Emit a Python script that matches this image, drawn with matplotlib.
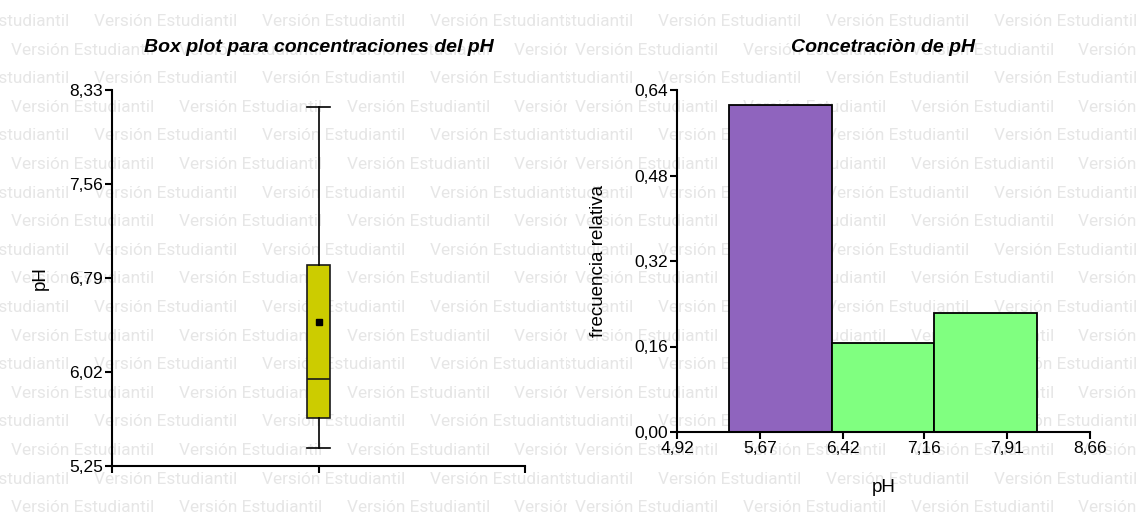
import numpy as np
import matplotlib
matplotlib.use("Agg")
import matplotlib.pyplot as plt
from matplotlib.ticker import FixedLocator, FuncFormatter

# ---- data -------------------------------------------------------------
# box plot summary of pH
ph_whisker_low = 5.40
ph_q1 = 5.64
ph_median = 5.96
ph_mean = 6.43
ph_q3 = 6.90
ph_whisker_high = 8.19
box_yticks = [5.25, 6.02, 6.79, 7.56, 8.33]

# histogram of pH (relative frequency)
bin_edges = [5.39, 6.32, 7.25, 8.18]
rel_freq = [0.611, 0.167, 0.222]
bar_colors = ["#8f64be", "#80ff80", "#80ff80"]
hist_xticks = [4.92, 5.67, 6.42, 7.16, 7.91, 8.66]
hist_yticks = [0.00, 0.16, 0.32, 0.48, 0.64]

watermark = "Versión Estudiantil"

# ---- figure -----------------------------------------------------------
W, H, DPI = 1138, 516, 100
plt.rcParams["font.family"] = ["Liberation Sans", "DejaVu Sans"]
fig = plt.figure(figsize=(W / DPI, H / DPI), dpi=DPI, facecolor="white")


def fx(px):
    return px / W


def fy(py):
    return 1 - py / H


# tiled watermark, one block per panel image
seam = 567
period_x = 167.8
period_y = 28.6
wm_color = "#e6e6e6"
wm_family = "Roboto"

probe = fig.text(0, 0, watermark, fontsize=10, family=wm_family)
fig.canvas.draw()
w10 = probe.get_window_extent().width
probe.remove()
wm_size = 10 * 144 / w10

for x0, x1, origin in [(0, seam, 0), (seam, W, 564)]:
    bg = fig.add_axes([fx(x0), 0, fx(x1 - x0), 1], zorder=0)
    bg.set_xlim(x0, x1)
    bg.set_ylim(H, 0)
    bg.axis("off")
    for k in range(19):
        yc = 21.5 + period_y * k
        start = 94 - period_x if k % 2 == 0 else 11
        xs = np.arange(start, x1 - origin + period_x, period_x)
        for xv in xs:
            bg.text(origin + xv, yc, watermark, fontsize=wm_size, family=wm_family,
                    color=wm_color, ha="left", va="center", clip_on=True)

comma = lambda fmt: FuncFormatter(lambda v, p: (fmt % v).replace(".", ","))

spine_lw = 1.5
tick_kw = dict(direction="out", length=5, width=spine_lw, labelsize=12.5,
               color="black", pad=1.5)
label_size = 13.5
title_kw = dict(ha="center", va="center", fontsize=14, fontweight="bold", style="italic")

# ---- left: box plot ---------------------------------------------------
axL = fig.add_axes([fx(112), fy(466), fx(525 - 112), fy(90) - fy(466)], zorder=2)
axL.set_facecolor("none")
stats = [dict(whislo=ph_whisker_low, q1=ph_q1, med=ph_median, q3=ph_q3,
              whishi=ph_whisker_high, mean=ph_mean, fliers=[])]
axL.bxp(stats, positions=[1], widths=0.109, showmeans=True, patch_artist=True,
        boxprops=dict(facecolor="#cccc00", edgecolor="#1a1a1a", linewidth=1.2),
        medianprops=dict(color="#1a1a1a", linewidth=1.2),
        whiskerprops=dict(color="black", linewidth=1.2),
        capprops=dict(color="black", linewidth=1.2),
        capwidths=0.109,
        meanprops=dict(marker="s", markerfacecolor="black",
                       markeredgecolor="black", markersize=5))
axL.set_xlim(0, 2)
axL.set_ylim(5.25, 8.33)
axL.yaxis.set_major_locator(FixedLocator(box_yticks))
axL.yaxis.set_major_formatter(comma("%.2f"))
axL.xaxis.set_major_locator(FixedLocator([0, 1, 2]))
axL.set_xticklabels(["", "", ""])
for s in ("top", "right"):
    axL.spines[s].set_visible(False)
for s in ("left", "bottom"):
    axL.spines[s].set_linewidth(spine_lw)
axL.tick_params(**tick_kw)
axL.set_ylabel("pH", fontsize=label_size, va="center")
axL.yaxis.set_label_coords(-0.174, 0.5)
axL.text(0.5, 1.112, "Box plot para concentraciones del pH",
         transform=axL.transAxes, **title_kw)

# ---- right: histogram -------------------------------------------------
axR = fig.add_axes([fx(677), fy(432), fx(1090 - 677), fy(90) - fy(432)], zorder=2)
axR.set_facecolor("none")
edges = np.array(bin_edges)
axR.bar(edges[:-1], rel_freq, width=np.diff(edges), align="edge",
        color=bar_colors, edgecolor="black", linewidth=1.3)
axR.set_xlim(4.92, 8.66)
axR.set_ylim(0, 0.64)
axR.xaxis.set_major_locator(FixedLocator(hist_xticks))
axR.xaxis.set_major_formatter(comma("%.2f"))
axR.yaxis.set_major_locator(FixedLocator(hist_yticks))
axR.yaxis.set_major_formatter(comma("%.2f"))
for s in ("top", "right"):
    axR.spines[s].set_visible(False)
for s in ("left", "bottom"):
    axR.spines[s].set_linewidth(spine_lw)
axR.tick_params(**tick_kw)
axR.set_ylabel("frecuencia relativa", fontsize=label_size, va="center")
axR.yaxis.set_label_coords(-0.191, 0.5)
axR.set_xlabel("pH", fontsize=label_size, va="center")
axR.xaxis.set_label_coords(0.5, -0.161)
axR.text(0.5, 1.123, "Concetraciòn de pH", transform=axR.transAxes, **title_kw)

fig.savefig("out.png", dpi=DPI, facecolor="white")
